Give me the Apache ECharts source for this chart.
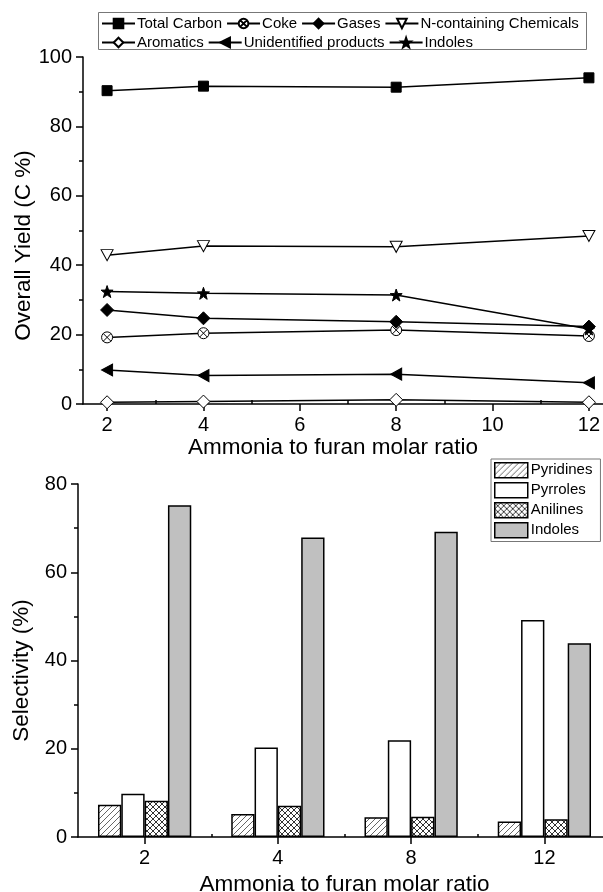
<!DOCTYPE html>
<html>
<head>
<meta charset="utf-8">
<script src="https://cdn.jsdelivr.net/npm/echarts@6/dist/echarts.min.js"></script>
<style>
  html, body { margin: 0; padding: 0; background: #fff; }
  #main { width: 603px; height: 892px; }
</style>
</head>
<body>
<div id="main"></div>
<script>
// top chart: overall yield vs ammonia/furan ratio
var ratios = [2, 4, 8, 12];
var totalCarbon = [90.3, 91.6, 91.3, 94.0];
var coke = [19.2, 20.4, 21.3, 19.6];
var gases = [27.1, 24.7, 23.7, 22.3];
var nChemicals = [42.9, 45.5, 45.3, 48.4];
var aromatics = [0.5, 0.7, 1.2, 0.5];
var unidentified = [9.8, 8.2, 8.6, 6.1];
var indoles = [32.4, 31.9, 31.4, 21.6];
var topTicks = [2, 4, 6, 8, 10, 12];
var topMinorTicks = [3, 5, 7, 9, 11];

// bottom chart: selectivity
var ratioLabels = ['2', '4', '8', '12'];
var pyridines = [7.3, 5.2, 4.5, 3.5];
var pyrroles = [9.8, 20.3, 21.9, 49.2];
var anilines = [8.2, 7.1, 4.6, 4.0];
var indoleSel = [75.2, 67.9, 69.2, 43.9];

var FONT = '"Liberation Sans", Arial, sans-serif';

function pairs(ys) {
  var out = [];
  for (var i = 0; i < ratios.length; i++) {
    out.push([ratios[i], ys[i]]);
  }
  return out;
}

// hatch fill for the bars
function hatch(cross, stroke) {
  var c = document.createElement('canvas');
  c.width = 6; c.height = 6;
  var g = c.getContext('2d');
  g.fillStyle = '#fff';
  g.fillRect(0, 0, 6, 6);
  g.strokeStyle = stroke;
  g.lineWidth = 1;
  g.beginPath();
  g.moveTo(-1, 7); g.lineTo(7, -1);
  g.moveTo(-1, 1); g.lineTo(1, -1);
  g.moveTo(5, 7); g.lineTo(7, 5);
  if (cross) {
    g.moveTo(-1, -1); g.lineTo(7, 7);
    g.moveTo(-1, 5); g.lineTo(1, 7);
    g.moveTo(5, -1); g.lineTo(7, 1);
  }
  g.stroke();
  return { image: c, repeat: 'repeat' };
}

var SYM_COKE = 'path://M10,0 A10,10 0 1,1 9.99,0 Z M2.9,2.9 L17.1,17.1 M17.1,2.9 L2.9,17.1';
var SYM_DOWN = 'path://M0,0 L20,0 L10,18 Z';
var SYM_LEFT = 'path://M0,10 L18,0 L18,20 Z';
var SYM_STAR = 'path://M10,0 L12.35,6.76 L19.51,6.91 L13.8,11.24 L15.88,18.09 L10,14 L4.12,18.09 L6.2,11.24 L0.49,6.91 L7.65,6.76 Z';

function lineSeries(name, ys, symbol, size, filled) {
  return {
    name: name,
    type: 'line',
    xAxisIndex: 0,
    yAxisIndex: 0,
    data: pairs(ys),
    symbol: symbol,
    symbolSize: size,
    showAllSymbol: true,
    lineStyle: { color: '#000', width: 1.5 },
    itemStyle: { color: filled ? '#000' : '#fff', borderColor: '#000', borderWidth: 1 },
    emphasis: { disabled: true },
    z: 3
  };
}

function barSeries(name, ys, color) {
  return {
    name: name,
    type: 'bar',
    xAxisIndex: 2,
    yAxisIndex: 1,
    data: ys,
    barGap: '0%',
    barCategoryGap: '30%',
    itemStyle: { color: color, borderColor: '#000', borderWidth: 1.5 },
    emphasis: { disabled: true }
  };
}

var axisLine = { show: true, onZero: false, lineStyle: { color: '#000', width: 1.5 } };
var labelStyle = { color: '#000', fontFamily: FONT, fontSize: 20 };
var legendText = { color: '#000', fontFamily: FONT, fontSize: 15, padding: [0, 0, 0, -3] };

// axis titles; the right padding nudges them off-centre as in the original
function nameStyle(shift) {
  return { color: '#000', fontFamily: FONT, fontSize: 22.5, padding: [0, shift, 0, 0] };
}

var chart = echarts.init(document.getElementById('main'));
var option = {
  animation: false,
  backgroundColor: '#fff',
  textStyle: { fontFamily: FONT },
  // axes run past the right edge in the original, so no outer-bounds clamping
  grid: [
    { left: 83, width: 530, top: 57, height: 347, outerBoundsMode: 'none' },
    { left: 78, width: 533, top: 484, height: 353, outerBoundsMode: 'none' }
  ],
  legend: [
    {
      data: ['Total Carbon', 'Coke', 'Gases', 'N-containing Chemicals'],
      left: 101, top: 16, padding: 0,
      itemWidth: 33, itemHeight: 12, itemGap: 4,
      textStyle: legendText
    },
    {
      data: ['Aromatics', 'Unidentified products', 'Indoles'],
      left: 101, top: 35, padding: 0,
      itemWidth: 33, itemHeight: 12, itemGap: 4,
      textStyle: legendText
    },
    {
      data: ['Pyridines', 'Pyrroles', 'Anilines', 'Indoles '],
      orient: 'vertical',
      left: 491, top: 459,
      padding: [3, 8, 3, 3],
      borderColor: '#777', borderWidth: 1,
      icon: 'rect',
      itemWidth: 33, itemHeight: 15, itemGap: 3.5,
      itemStyle: { borderColor: '#000', borderWidth: 1.5 },
      textStyle: { color: '#000', fontFamily: FONT, fontSize: 15, padding: [0, 0, 0, -2] }
    }
  ],
  graphic: [
    {
      type: 'rect',
      shape: { x: 98.5, y: 12.5, width: 488, height: 37 },
      style: { fill: 'none', stroke: '#777', lineWidth: 1 },
      silent: true
    }
  ],
  xAxis: [
    {
      gridIndex: 0,
      type: 'value',
      min: 1.5, max: 12.5,
      name: 'Ammonia to furan molar ratio',
      nameLocation: 'middle', nameGap: 32,
      nameTextStyle: nameStyle(30),
      axisLine: axisLine,
      axisTick: { show: true, length: 7, customValues: topTicks, lineStyle: { color: '#000', width: 1.5 } },
      axisLabel: Object.assign({ margin: 11, customValues: topTicks }, labelStyle),
      splitLine: { show: false }
    },
    {
      gridIndex: 0,
      type: 'value',
      min: 1.5, max: 12.5,
      axisLine: { show: false },
      axisTick: { show: true, length: 4, customValues: topMinorTicks, lineStyle: { color: '#000', width: 1.5 } },
      axisLabel: { show: false },
      splitLine: { show: false }
    },
    {
      gridIndex: 1,
      type: 'category',
      data: ratioLabels,
      name: 'Ammonia to furan molar ratio',
      nameLocation: 'middle', nameGap: 36,
      nameTextStyle: nameStyle(0),
      axisLine: axisLine,
      axisTick: { show: true, alignWithLabel: true, length: 7, lineStyle: { color: '#000', width: 1.5 } },
      axisLabel: Object.assign({ margin: 11 }, labelStyle),
      splitLine: { show: false }
    },
    {
      gridIndex: 1,
      type: 'value',
      min: 0, max: 4,
      axisLine: { show: false },
      axisTick: { show: true, length: 3, customValues: [1, 2, 3], lineStyle: { color: '#000', width: 1.5 } },
      axisLabel: { show: false },
      splitLine: { show: false }
    }
  ],
  yAxis: [
    {
      gridIndex: 0,
      type: 'value',
      min: 0, max: 100, interval: 20,
      name: 'Overall Yield (C %)',
      nameLocation: 'middle', nameGap: 48,
      nameMoveOverlap: false,
      nameTextStyle: nameStyle(30),
      axisLine: axisLine,
      axisTick: { show: true, length: 7, lineStyle: { color: '#000', width: 1.5 } },
      minorTick: { show: true, splitNumber: 2, length: 4, lineStyle: { color: '#000', width: 1.5 } },
      axisLabel: Object.assign({ margin: 11 }, labelStyle),
      splitLine: { show: false }
    },
    {
      gridIndex: 1,
      type: 'value',
      min: 0, max: 80, interval: 20,
      name: 'Selectivity (%)',
      nameLocation: 'middle', nameGap: 45,
      nameMoveOverlap: false,
      nameTextStyle: nameStyle(20),
      axisLine: axisLine,
      axisTick: { show: true, length: 7, lineStyle: { color: '#000', width: 1.5 } },
      minorTick: { show: true, splitNumber: 2, length: 4, lineStyle: { color: '#000', width: 1.5 } },
      axisLabel: Object.assign({ margin: 11 }, labelStyle),
      splitLine: { show: false }
    }
  ],
  series: [
    lineSeries('Total Carbon', totalCarbon, 'rect', 10, true),
    lineSeries('Coke', coke, SYM_COKE, 11, false),
    lineSeries('Gases', gases, 'diamond', 13, true),
    lineSeries('N-containing Chemicals', nChemicals, SYM_DOWN, [12, 11], false),
    lineSeries('Aromatics', aromatics, 'diamond', 13, false),
    lineSeries('Unidentified products', unidentified, SYM_LEFT, [11, 12], true),
    lineSeries('Indoles', indoles, SYM_STAR, 12, true),
    barSeries('Pyridines', pyridines, hatch(false, '#666')),
    barSeries('Pyrroles', pyrroles, '#fff'),
    barSeries('Anilines', anilines, hatch(true, '#333')),
    barSeries('Indoles ', indoleSel, '#c0c0c0')
  ]
};
chart.setOption(option);
</script>
</body>
</html>
